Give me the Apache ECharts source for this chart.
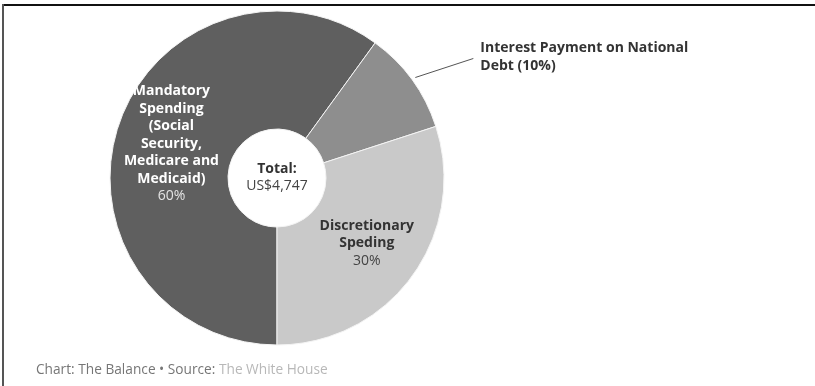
<!DOCTYPE html>
<html>
<head>
<meta charset="utf-8">
<script src="https://cdn.jsdelivr.net/npm/echarts@6/dist/echarts.min.js"></script>
<style>
  html, body { margin: 0; padding: 0; background: #fff; }
  #chart { width: 815px; height: 386px; }
</style>
</head>
<body>
<div id="chart"></div>
<script>
// Federal spending breakdown, shares in percent of the total (US$ billions)
const categories = [
  'Mandatory\nSpending\n(Social\nSecurity,\nMedicare and\nMedicaid)',
  'Interest Payment on National\nDebt',
  'Discretionary\nSpeding'
];
const shares = [60, 10, 30];
const totalSpending = 4747;
const sliceColors = ['#5f5f5f', '#8e8e8e', '#c9c9c9'];
const footerChart = 'Chart: The Balance \u2022 Source: ';
const footerSource = 'The White House';

const FONT = '"Open Sans", sans-serif';

function insideLabel(name, pct) {
  const lines = name.split('\n').map(function (l) { return '{n|' + l + '}'; });
  lines.push('{p|' + pct + '%}');
  return lines.join('\n');
}

const data = categories.map(function (name, i) {
  const item = { name: name, value: shares[i], itemStyle: { color: sliceColors[i] } };
  if (i === 1) {
    item.label = {
      position: 'outside',
      formatter: function (p) { return p.name + ' (' + p.value + '%)'; },
      fontFamily: FONT, fontSize: 14, fontWeight: 'bold', color: '#333', lineHeight: 18
    };
    item.labelLine = { show: true, length: 10, length2: 10, lineStyle: { color: '#555', width: 1 } };
  } else {
    const light = i === 0;
    item.label = {
      position: 'inside',
      formatter: function (p) { return insideLabel(p.name, p.value); },
      rich: {
        n: { fontFamily: FONT, fontSize: 14, fontWeight: 'bold', color: light ? '#ffffff' : '#333333', lineHeight: 17.5, align: 'center' },
        p: { fontFamily: FONT, fontSize: 14, color: light ? '#e4e4e4' : '#444444', lineHeight: 17.5, align: 'center' }
      }
    };
  }
  return item;
});

const chart = echarts.init(document.getElementById('chart'), null, { renderer: 'canvas' });
chart.setOption({
  animation: false,
  backgroundColor: '#ffffff',
  title: {
    left: 31, top: 358,
    text: '{a|' + footerChart + '}{b|' + footerSource + '}',
    textStyle: {
      fontWeight: 'normal',
      rich: {
        a: { fontFamily: FONT, fontSize: 13.7, fontWeight: 'normal', color: '#767676' },
        b: { fontFamily: FONT, fontSize: 13.7, fontWeight: 'normal', color: '#b8b8b8' }
      }
    }
  },
  graphic: [
    { type: 'rect', shape: { x: 2, y: 4, width: 813, height: 2 }, style: { fill: '#111' }, silent: true },
    { type: 'rect', shape: { x: 2, y: 4, width: 2, height: 382 }, style: { fill: '#555' }, silent: true }
  ],
  series: [
    {
      type: 'pie',
      center: [277, 178],
      radius: [49, 167],
      startAngle: 270,
      clockwise: true,
      avoidLabelOverlap: false,
      itemStyle: { borderColor: '#f4f4f4', borderWidth: 1 },
      labelLine: { show: false },
      emphasis: { disabled: true },
      data: data,
      labelLayout: function (p) {
        if (p.dataIndex !== 1 || !p.labelLinePoints) return {};
        const a = p.labelLinePoints[0], b = p.labelLinePoints[1];
        const len = Math.hypot(b[0] - a[0], b[1] - a[1]) || 1;
        const ux = (b[0] - a[0]) / len, uy = (b[1] - a[1]) / len;
        const start = [a[0] + ux * 4, a[1] + uy * 4];
        const end = [start[0] + 58, start[1] - 19];
        return {
          x: end[0] + 7, y: end[1] - 1,
          align: 'left', verticalAlign: 'middle',
          labelLinePoints: [start, end]
        };
      }
    },
    {
      type: 'pie',
      center: [277, 178],
      radius: [0, 48],
      silent: true,
      itemStyle: { color: '#ffffff' },
      label: {
        position: 'center',
        formatter: function (p) {
          return '{t|Total:}\n{v|US$' + p.value.toLocaleString('en-US') + '}';
        },
        rich: {
          t: { fontFamily: FONT, fontSize: 14, fontWeight: 'bold', color: '#333', lineHeight: 17 },
          v: { fontFamily: FONT, fontSize: 14, color: '#444', lineHeight: 17 }
        }
      },
      labelLine: { show: false },
      data: [{ name: 'Total', value: totalSpending }]
    }
  ]
});
</script>
</body>
</html>
